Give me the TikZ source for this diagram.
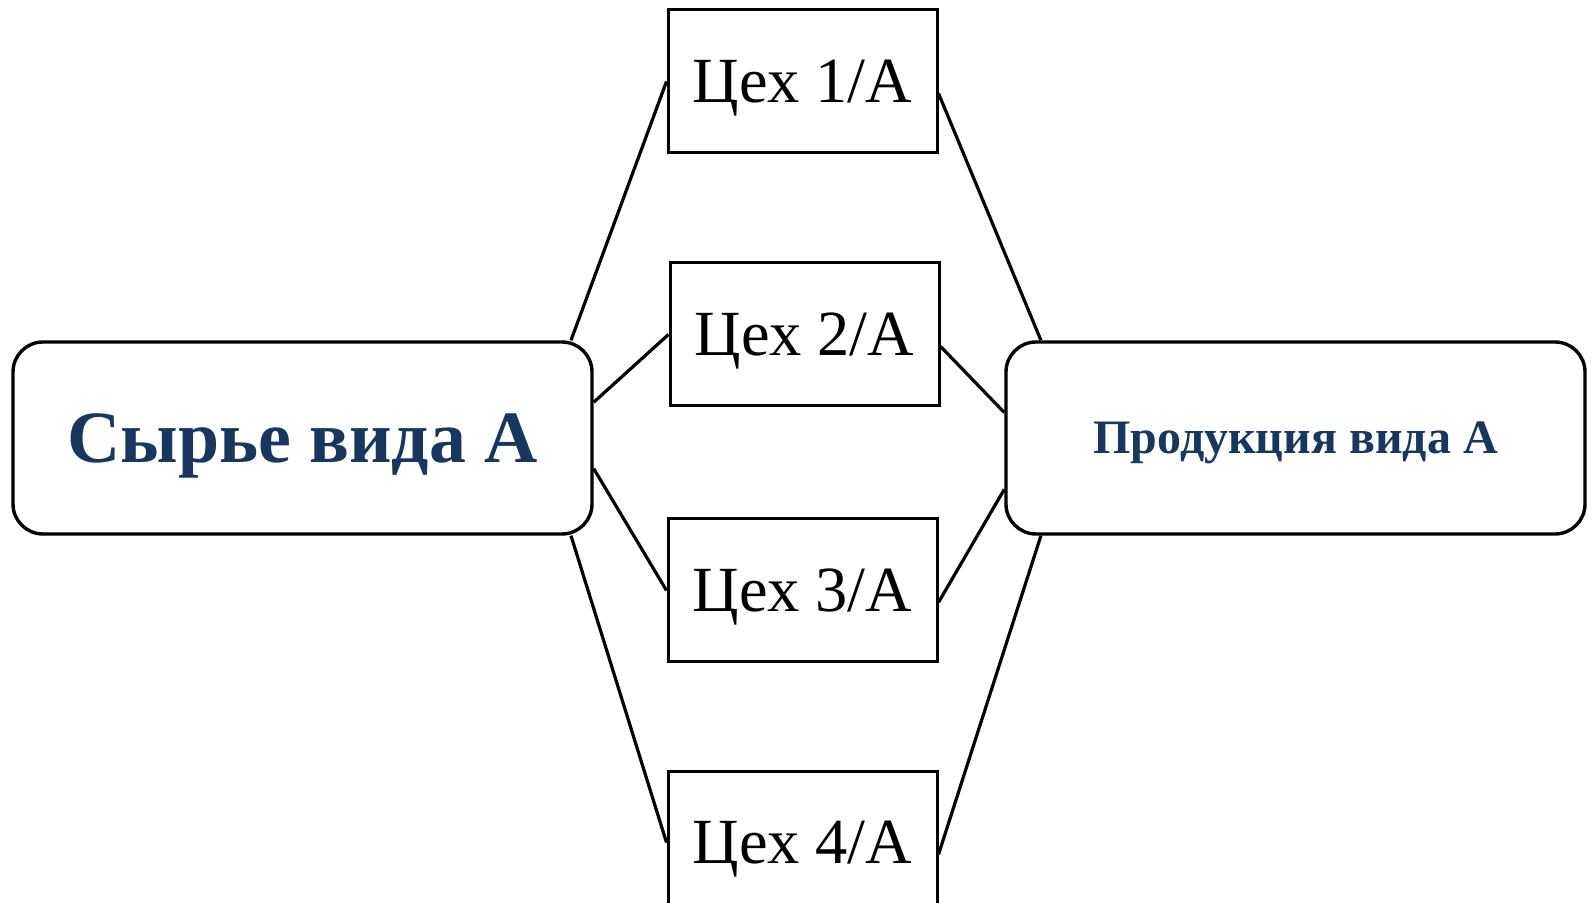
\documentclass[tikz,border=0pt]{standalone}
\usepackage{fontspec}
\setmainfont{Liberation Serif}
\usepackage{xcolor}
\usetikzlibrary{positioning}
\definecolor{titleblue}{RGB}{23,55,94}

\begin{document}
\begin{tikzpicture}[
    x=0.5pt, y=-0.5pt,
    node distance=54pt,
    shop/.style={rectangle, draw, line width=1.5pt, minimum width=134.5pt, minimum height=71.5pt, inner sep=0pt, text depth=0pt, font=\fontsize{32.2}{36}\selectfont},
    stock/.style={rectangle, draw, line width=1.7pt, rounded corners=15pt, minimum width=289.5pt, minimum height=96pt, inner sep=0pt, text depth=0pt, text=titleblue},
    link/.style={line width=1.6pt}
]
\useasboundingbox (0,0) rectangle (1592,903);
\clip (0,0) rectangle (1592,903);

% Raw material and product
\node[stock, font=\fontsize{36.9}{40}\selectfont\bfseries] (raw) at (302.5,438) {Сырье вида А};
\node[stock, font=\fontsize{24}{28}\selectfont\bfseries] (prod) at (1295.5,438) {Продукция вида А};

% Shops
\node[shop] (w1) at (802.5,81.5) {Цех 1/А};
\node[shop, below=53.5pt of w1, xshift=1pt] (w2) {Цех 2/А};
\node[shop, below=55pt of w2, xshift=-1pt] (w3) {Цех 3/А};
\node[shop, below=53pt of w3] (w4) {Цех 4/А};

% Links in
\draw[link] (raw.20.3) -- (w1.west);
\draw[link] (raw.7.5) -- (w2.west);
\draw[link] (raw.-6) -- (w3.west);
\draw[link] (raw.-20) -- (w4.west);

% Links out
\draw[link] (w1.-5) -- (prod.159.5);
\draw[link] (w2.-5) -- (prod.175);
\draw[link] (w3.-5) -- (prod.190);
\draw[link] (w4.-5) -- (prod.201.2);

\end{tikzpicture}
\end{document}
